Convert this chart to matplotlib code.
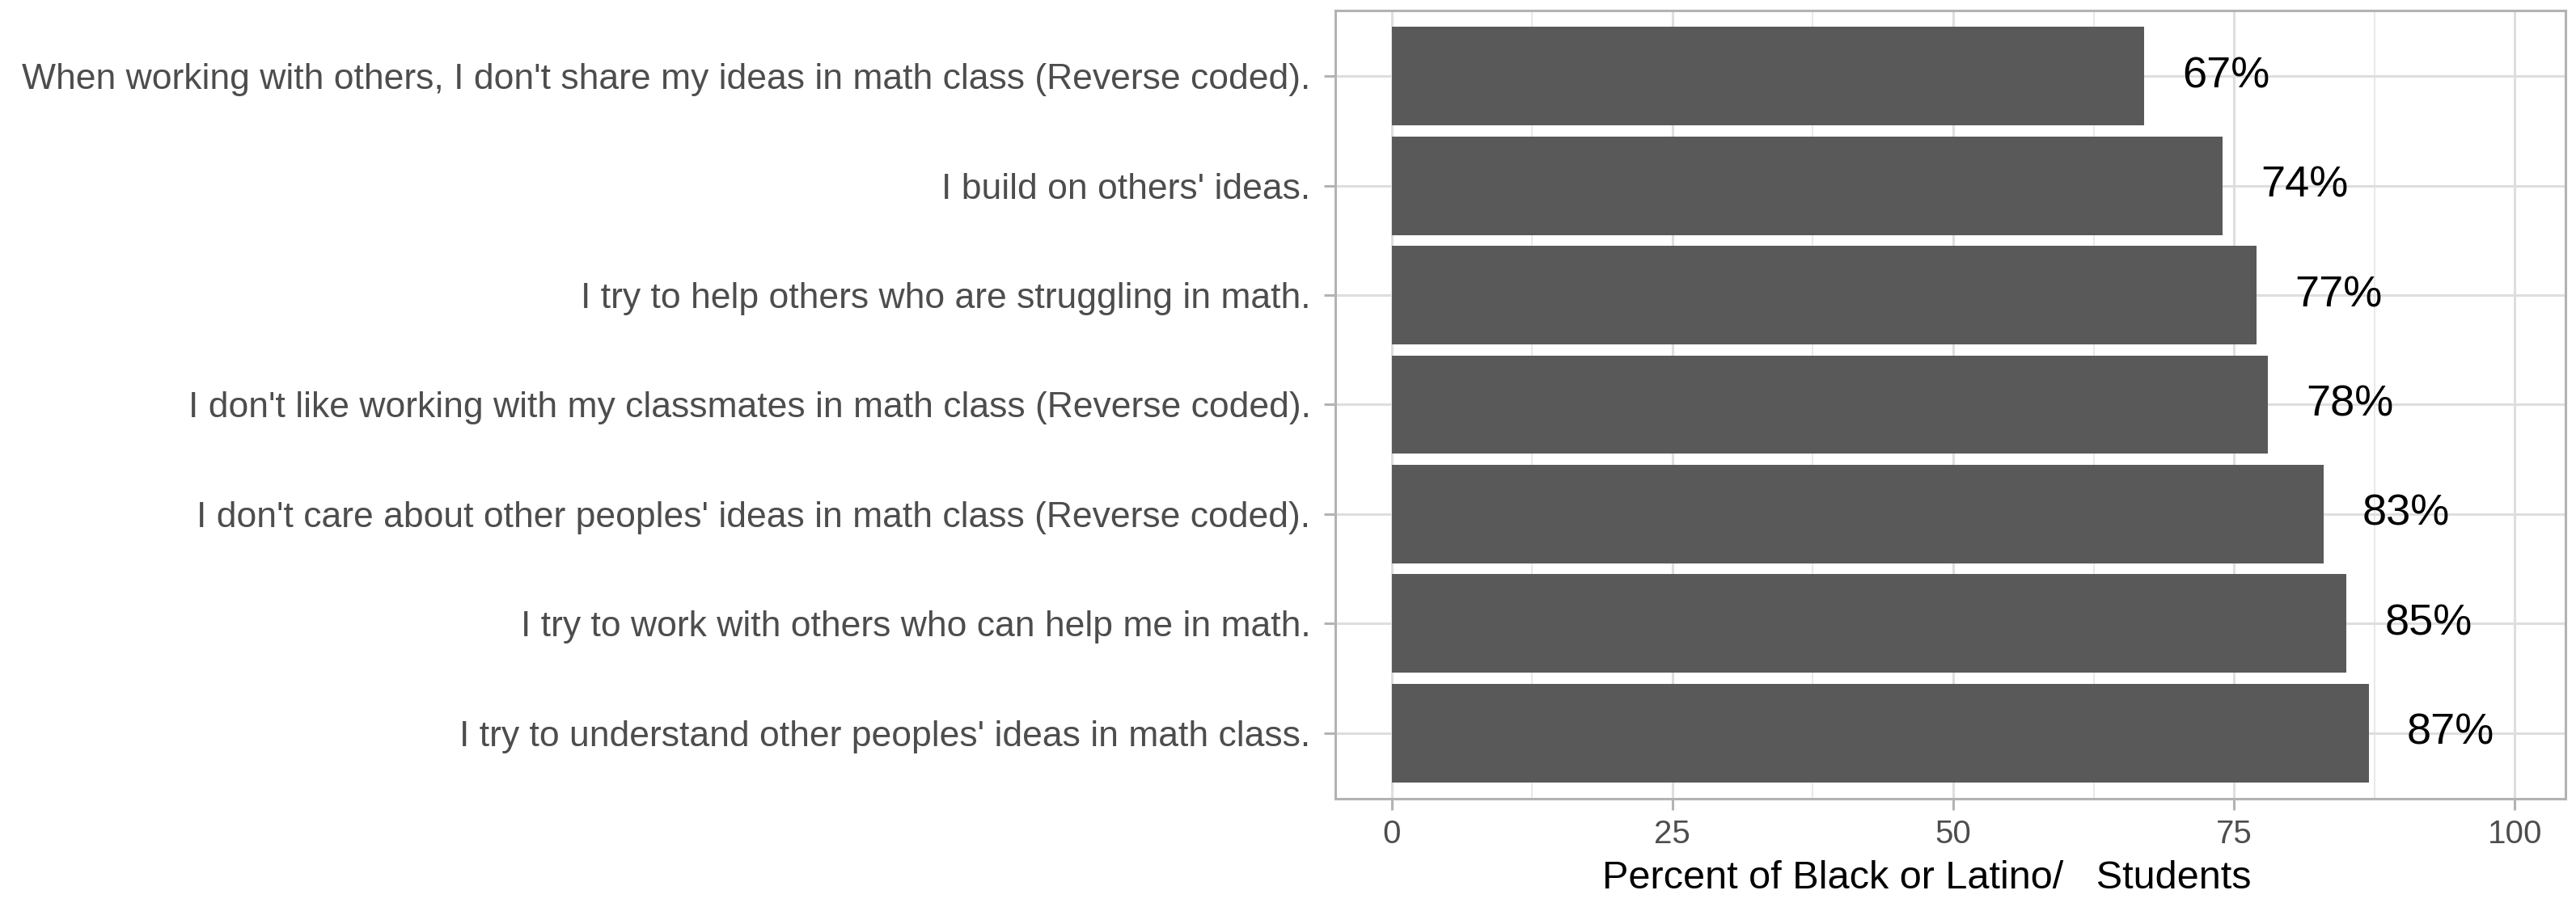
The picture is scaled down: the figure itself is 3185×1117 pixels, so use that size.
import matplotlib.pyplot as plt
from matplotlib.ticker import MultipleLocator

plt.rcParams['font.family'] = ['Liberation Sans', 'DejaVu Sans']

# items listed from top to bottom
items = [
    "When working with others, I don't share my ideas in math class (Reverse coded).",
    "I build on others' ideas.",
    "I try to help others who are struggling in math.",
    "I don't like working with my classmates in math class (Reverse coded).",
    "I don't care about other peoples' ideas in math class (Reverse coded).",
    "I try to work with others who can help me in math.",
    "I try to understand other peoples' ideas in math class.",
]
percents = [67, 74, 77, 78, 83, 85, 87]
x_ticks = [0, 25, 50, 75, 100]

fig = plt.figure(figsize=(31.85, 11.17), dpi=100)
ax = fig.add_axes([0.5184, 0.1155, 0.4775, 0.8729])

pos = list(range(len(items), 0, -1))
ax.barh(pos, percents, height=0.9, color='#595959', zorder=3)
for p, v in zip(pos, percents):
    ax.text(v + 3.4, p, f"{v}%", ha='left', va='center', fontsize=39, color='black', zorder=4)

ax.set_xlim(-5.0, 104.5)
ax.set_ylim(0.4, len(items) + 0.6)
ax.set_yticks(pos)
ax.set_yticklabels(items)
ax.set_xticks(x_ticks)
ax.xaxis.set_minor_locator(MultipleLocator(12.5))

ax.grid(True, which='major', color='#DEDEDE', linewidth=2.2, zorder=0)
ax.grid(True, which='minor', axis='x', color='#E6E6E6', linewidth=1.3, zorder=0)
for s in ax.spines.values():
    s.set_color('#B3B3B3')
    s.set_linewidth(2.2)

ax.tick_params(axis='both', which='major', color='#B3B3B3', width=2.2, length=10,
               labelcolor='#4D4D4D')
ax.tick_params(axis='y', labelsize=32, pad=12)
ax.tick_params(axis='x', labelsize=29, pad=8)
ax.tick_params(axis='x', which='minor', length=0)
ax.set_xlabel("Percent of Black or Latino/   Students", fontsize=35, color='black')
ax.xaxis.set_label_coords(0.481, -0.078)
ax.xaxis.label.set_va('top')

fig.savefig('out.png', dpi=100)
